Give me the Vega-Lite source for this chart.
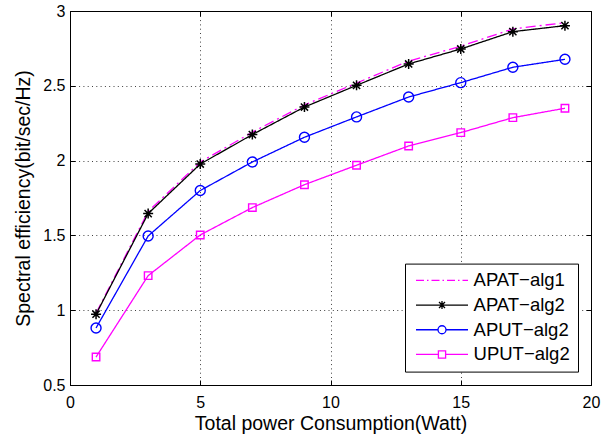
{
  "$schema": "https://vega.github.io/schema/vega-lite/v6.json",
  "autosize": "none",
  "width": 521,
  "height": 374,
  "padding": {"left": 70, "top": 11, "right": 21, "bottom": 53},
  "background": "white",
  "config": {
    "view": {"stroke": "black", "strokeWidth": 1},
    "font": "Liberation Sans",
    "axis": {"labelFont": "Liberation Sans", "titleFont": "Liberation Sans", "titleFontWeight": "normal", "labelColor": "black", "titleColor": "black", "domainColor": "black", "tickColor": "black"}
  },
  "data": {
    "values": [
      {"series": "APAT−alg1", "x": 1, "y": 0.98},
      {"series": "APAT−alg1", "x": 3, "y": 1.66},
      {"series": "APAT−alg1", "x": 5, "y": 1.99},
      {"series": "APAT−alg1", "x": 7, "y": 2.19},
      {"series": "APAT−alg1", "x": 9, "y": 2.372},
      {"series": "APAT−alg1", "x": 11, "y": 2.518},
      {"series": "APAT−alg1", "x": 13, "y": 2.665},
      {"series": "APAT−alg1", "x": 15, "y": 2.765},
      {"series": "APAT−alg1", "x": 17, "y": 2.88},
      {"series": "APAT−alg1", "x": 19, "y": 2.922},
      {"series": "APAT−alg2", "x": 1, "y": 0.973},
      {"series": "APAT−alg2", "x": 3, "y": 1.646},
      {"series": "APAT−alg2", "x": 5, "y": 1.977},
      {"series": "APAT−alg2", "x": 7, "y": 2.174},
      {"series": "APAT−alg2", "x": 9, "y": 2.358},
      {"series": "APAT−alg2", "x": 11, "y": 2.503},
      {"series": "APAT−alg2", "x": 13, "y": 2.646},
      {"series": "APAT−alg2", "x": 15, "y": 2.746},
      {"series": "APAT−alg2", "x": 17, "y": 2.862},
      {"series": "APAT−alg2", "x": 19, "y": 2.902},
      {"series": "APUT−alg2", "x": 1, "y": 0.881},
      {"series": "APUT−alg2", "x": 3, "y": 1.496},
      {"series": "APUT−alg2", "x": 5, "y": 1.8},
      {"series": "APUT−alg2", "x": 7, "y": 1.991},
      {"series": "APUT−alg2", "x": 9, "y": 2.156},
      {"series": "APUT−alg2", "x": 11, "y": 2.292},
      {"series": "APUT−alg2", "x": 13, "y": 2.425},
      {"series": "APUT−alg2", "x": 15, "y": 2.521},
      {"series": "APUT−alg2", "x": 17, "y": 2.624},
      {"series": "APUT−alg2", "x": 19, "y": 2.677},
      {"series": "UPUT−alg2", "x": 1, "y": 0.687},
      {"series": "UPUT−alg2", "x": 3, "y": 1.231},
      {"series": "UPUT−alg2", "x": 5, "y": 1.503},
      {"series": "UPUT−alg2", "x": 7, "y": 1.686},
      {"series": "UPUT−alg2", "x": 9, "y": 1.839},
      {"series": "UPUT−alg2", "x": 11, "y": 1.969},
      {"series": "UPUT−alg2", "x": 13, "y": 2.098},
      {"series": "UPUT−alg2", "x": 15, "y": 2.187},
      {"series": "UPUT−alg2", "x": 17, "y": 2.287},
      {"series": "UPUT−alg2", "x": 19, "y": 2.35}
    ]
  },
  "layer": [
    {
      "mark": {"type": "line", "strokeWidth": 1.3},
      "encoding": {
        "x": {"field": "x", "type": "quantitative", "scale": {"domain": [0, 20], "nice": false},
          "axis": {"orient": "bottom", "values": [0, 5, 10, 15, 20], "grid": true, "gridDash": [1, 3.3], "gridColor": "#000", "gridOpacity": 0.75, "tickSize": -5, "labelFontSize": 16, "labelPadding": 14, "labelFlush": false, "title": "Total power Consumption(Watt)", "titleFontSize": 19.5, "titlePadding": 4}},
        "y": {"field": "y", "type": "quantitative", "scale": {"domain": [0.5, 3], "nice": false, "zero": false},
          "axis": {"orient": "left", "values": [0.5, 1, 1.5, 2, 2.5, 3], "format": "~g", "grid": true, "gridDash": [1, 3.3], "gridColor": "#000", "gridOpacity": 0.75, "tickSize": -5, "labelFontSize": 16, "labelPadding": 10, "labelFlush": false, "title": "Spectral efficiency(bit/sec/Hz)", "titleFontSize": 19.5, "titlePadding": 9}},
        "color": {"field": "series", "type": "nominal", "scale": {"range": ["#ff00ff", "#000000", "#0000ff", "#ff00ff"]}, "legend": null},
        "strokeDash": {"field": "series", "type": "nominal", "scale": {"range": [[10, 4, 2, 4], [1, 0], [1, 0], [1, 0]]}, "legend": null}
      }
    },
    {
      "transform": [{"filter": "datum.series === 'APAT−alg2'"}],
      "mark": {"type": "point", "shape": "M-1,0H1M0,-1V1M-0.72,-0.72L0.72,0.72M-0.72,0.72L0.72,-0.72", "size": 100, "filled": false, "color": "#000000", "strokeWidth": 1.5, "opacity": 1},
      "encoding": {
        "x": {"field": "x", "type": "quantitative", "axis": null},
        "y": {"field": "y", "type": "quantitative", "axis": null}
      }
    },
    {
      "transform": [{"filter": "datum.series === 'APUT−alg2'"}],
      "mark": {"type": "point", "shape": "circle", "size": 100, "filled": false, "color": "#0000ff", "strokeWidth": 1.4, "opacity": 1},
      "encoding": {
        "x": {"field": "x", "type": "quantitative", "axis": null},
        "y": {"field": "y", "type": "quantitative", "axis": null}
      }
    },
    {
      "transform": [{"filter": "datum.series === 'UPUT−alg2'"}],
      "mark": {"type": "point", "shape": "square", "size": 56, "filled": false, "color": "#ff00ff", "strokeWidth": 1.4, "opacity": 1},
      "encoding": {
        "x": {"field": "x", "type": "quantitative", "axis": null},
        "y": {"field": "y", "type": "quantitative", "axis": null}
      }
    },
    {
      "mark": {"type": "point", "filled": false, "opacity": 0, "strokeWidth": 0},
      "encoding": {
        "x": {"field": "x", "type": "quantitative",
          "axis": {"orient": "top", "values": [0, 5, 10, 15, 20], "labels": false, "title": null, "grid": false, "domain": false, "tickSize": -5}},
        "y": {"field": "y", "type": "quantitative",
          "axis": {"orient": "right", "values": [0.5, 1, 1.5, 2, 2.5, 3], "labels": false, "title": null, "grid": false, "domain": false, "tickSize": -5}},
        "shape": {"field": "series", "type": "nominal",
          "scale": {"domain": ["APAT−alg1", "APAT−alg2", "APUT−alg2", "UPUT−alg2"],
            "range": [
              "M-5.2,0H-3.6M-3,0H-2.7M-2.1,0H-0.5M0.1,0H0.4M1,0H2.6M3.2,0H3.5M4.1,0H5.2",
              "M-5.2,0H5.2M0,-0.8V0.8M-0.6,-0.6L0.6,0.6M-0.6,0.6L0.6,-0.6",
              "M-5.2,0H-0.8M0.8,0H5.2M0.8,0A0.8,0.8 0 1,1 -0.8,0A0.8,0.8 0 1,1 0.8,0",
              "M-5.2,0H-0.72M0.72,0H5.2M-0.72,-0.72H0.72V0.72H-0.72Z"
            ]},
          "legend": {
            "orient": "none", "legendX": 335, "legendY": 252.6,
            "title": null, "padding": 7.5,
            "fillColor": "white", "strokeColor": "black",
            "symbolSize": 100, "symbolStrokeWidth": 1.3, "symbolOpacity": 1, "symbolFillColor": "transparent",
            "symbolOffset": 20.25, "labelOffset": 22.3, "rowPadding": 5.7,
            "labelFont": "Liberation Sans", "labelFontSize": 18.5, "labelColor": "black", "labelLimit": 300,
            "encoding": {"symbols": {
              "stroke": {"value": {"expr": "datum.value === 'APUT−alg2' ? '#0000ff' : (datum.value === 'APAT−alg2' ? '#000000' : '#ff00ff')"}},
              "strokeWidth": {"value": 1.3},
              "opacity": {"value": 1}
            }}
          }
        }
      }
    }
  ]
}
